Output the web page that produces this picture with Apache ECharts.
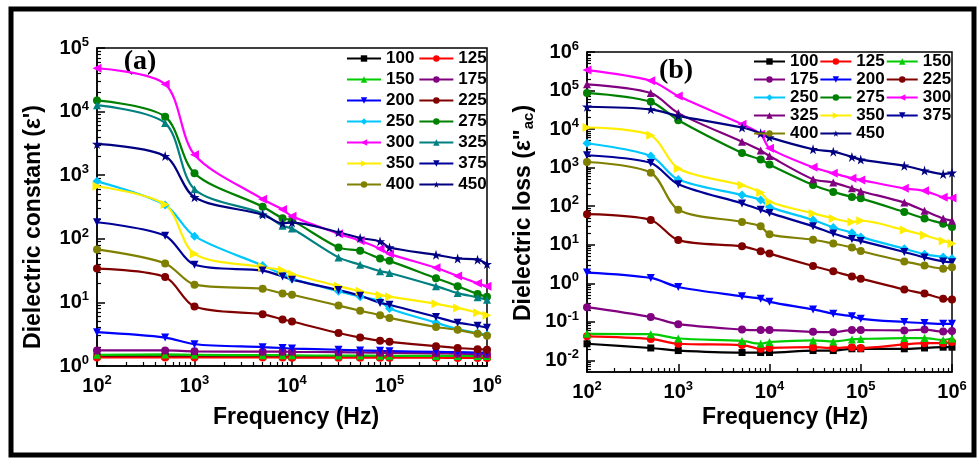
<!DOCTYPE html>
<html><head><meta charset="utf-8">
<script src="https://cdn.jsdelivr.net/npm/echarts@6/dist/echarts.min.js"></script>
<style>html,body{margin:0;padding:0;background:#fff}#c{width:978px;height:458px}</style>
</head><body><div id="c"></div>
<script>
// ---- data ----
const freq = [100, 500, 1000, 5000, 8000, 10000, 30000, 50000, 80000, 100000, 300000, 500000, 800000, 1000000];
const temps = ['100','125','150','175','200','225','250','275','300','325','350','375','400','450'];
const xMinorTicks = [200,300,400,500,600,700,800,900,2000,3000,4000,5000,6000,7000,8000,9000,20000,30000,40000,50000,60000,70000,80000,90000,200000,300000,400000,500000,600000,700000,800000,900000];
const yMinorTicksA = [2,3,4,5,6,7,8,9,20,30,40,50,60,70,80,90,200,300,400,500,600,700,800,900,2000,3000,4000,5000,6000,7000,8000,9000,20000,30000,40000,50000,60000,70000,80000,90000];
const yMajorTicksB = [0.01,0.1,1,10,100,1000,10000,100000,1000000];
const yMinorTicksB = [0.006,0.007,0.008,0.009,0.02,0.03,0.04,0.05,0.06,0.07,0.08,0.09,0.2,0.3,0.4,0.5,0.6,0.7,0.8,0.9,2,3,4,5,6,7,8,9,20,30,40,50,60,70,80,90,200,300,400,500,600,700,800,900,2000,3000,4000,5000,6000,7000,8000,9000,20000,30000,40000,50000,60000,70000,80000,90000,200000,300000,400000,500000,600000,700000,800000,900000];

// (a) dielectric constant
const epsA_100 = [1.42,1.42,1.41,1.41,1.40,1.40,1.40,1.40,1.40,1.39,1.39,1.39,1.39,1.39];
const epsA_125 = [1.36,1.36,1.36,1.36,1.36,1.35,1.35,1.35,1.35,1.35,1.35,1.34,1.34,1.34];
const epsA_150 = [1.50,1.52,1.50,1.48,1.48,1.47,1.46,1.46,1.45,1.45,1.44,1.44,1.43,1.43];
const epsA_175 = [1.76,1.76,1.70,1.68,1.68,1.67,1.65,1.63,1.62,1.60,1.58,1.56,1.54,1.53];
const epsA_200 = [3.4,2.8,2.2,1.98,1.92,1.88,1.80,1.76,1.73,1.71,1.67,1.65,1.63,1.62];
const epsA_225 = [34,25,8.6,6.5,5.4,5.0,3.3,2.8,2.5,2.4,2.05,1.92,1.84,1.8];
const epsA_250 = [800,340,110,38,27.5,23.5,15,12.3,10.6,8,4.8,3.8,3.3,3.1];
const epsA_275 = [15000,8300,1070,320,210,195,73,65,49,45,24,18,13.5,12.3];
const epsA_300 = [48000,27000,2100,420,290,226,120,93,70,58,35,26,20,18];
const epsA_325 = [12600,6600,600,250,160,145,51,39,31,29,18,14,12,11];
const epsA_350 = [670,345,58,36,32,28,18,15,13,12.3,9.5,8.2,6.9,6.3];
const epsA_375 = [182,112,39,31.6,25.6,22.8,15.6,12.7,9.8,9.2,5.9,4.8,4.3,4.0];
const epsA_400 = [68,41,19,16.4,13.8,13.2,8.9,7.4,6.3,5.7,4.1,3.7,3.2,3.0];
const epsA_450 = [3100,2000,450,240,175,180,127,103,91,73,56,49,47,40];

// (b) dielectric loss
const lossB_100 = [0.027,0.021,0.018,0.016,0.016,0.016,0.018,0.018,0.020,0.020,0.020,0.021,0.022,0.022];
const lossB_125 = [0.042,0.036,0.027,0.025,0.020,0.021,0.022,0.021,0.022,0.021,0.026,0.028,0.028,0.030];
const lossB_150 = [0.049,0.048,0.037,0.032,0.027,0.030,0.033,0.031,0.035,0.036,0.038,0.038,0.034,0.037];
const lossB_175 = [0.24,0.133,0.087,0.063,0.061,0.061,0.055,0.054,0.061,0.061,0.060,0.063,0.056,0.058];
const lossB_200 = [1.9,1.38,0.80,0.46,0.40,0.33,0.21,0.163,0.14,0.12,0.099,0.093,0.089,0.089];
const lossB_225 = [62,44,13.2,9.1,6.8,5.9,2.8,2.05,1.5,1.32,0.69,0.54,0.40,0.38];
const lossB_250 = [4300,2000,490,195,145,96,44,28,20.5,16,7.9,5.7,4.8,4.4];
const lossB_275 = [87000,51000,17000,2400,1620,1200,355,235,174,160,71,48,35,29];
const lossB_300 = [340000,180000,72000,13400,7400,3200,1020,720,530,480,290,250,170,162];
const lossB_325 = [145000,86000,26000,4700,2800,2000,500,410,290,245,124,76,48,42];
const lossB_350 = [11000,6900,950,350,225,130,65,48,39,42,24,17.7,12.6,10.8];
const lossB_375 = [2100,1320,370,118,81,67,30,19.5,14,12.6,6.5,4.7,3.7,3.5];
const lossB_400 = [1400,740,81,39,30,18.6,13.5,10.7,8.5,6.9,3.7,2.9,2.4,2.6];
const lossB_450 = [38000,32500,22000,11000,7800,6100,3000,2600,1900,1620,1120,840,680,740];

const dataA = [epsA_100,epsA_125,epsA_150,epsA_175,epsA_200,epsA_225,epsA_250,epsA_275,epsA_300,epsA_325,epsA_350,epsA_375,epsA_400,epsA_450];
const dataB = [lossB_100,lossB_125,lossB_150,lossB_175,lossB_200,lossB_225,lossB_250,lossB_275,lossB_300,lossB_325,lossB_350,lossB_375,lossB_400,lossB_450];

// ---- styles ----
const STAR = 'path://M50,0 L61,35 L98,35 L68,57 L79,91 L50,70 L21,91 L32,57 L2,35 L39,35 Z';
const colorsA = ['#000000','#ff0000','#00cc00','#800080','#0000ff','#800000','#00c8ff','#008000','#ff00ff','#008080','#ffee00','#000099','#808000','#000080'];
const colorsB = ['#000000','#ff0000','#00cc00','#800080','#0000ff','#800000','#00c8ff','#008000','#ff00ff','#800080','#ffee00','#000099','#808000','#000080'];
const symbols = ['rect','circle','triangle','circle','triangle','circle','diamond','circle','triangle','triangle','triangle','triangle','circle',STAR];
const rots = [0,0,0,0,180,0,0,0,90,0,-90,180,0,0];
const sizes = [7,8,8,8,8,8,9,8,9,8,9,8,8,10];

const FF = '"Liberation Sans", Arial, sans-serif';
const richLbl = {
  a: {fontSize: 20, fontWeight: 'bold', fontFamily: FF, color: '#000', lineHeight: 24},
  b: {fontSize: 13, fontWeight: 'bold', fontFamily: FF, color: '#000', lineHeight: 12, verticalAlign: 'top'}
};
function powFmt(v){ const e = Math.round(Math.log10(v)); return '{a|10}{b|' + e + '}'; }

function mkSeries(prefix, data, colors, xi){
  return temps.map((t,i)=>({
    name: prefix + t, type: 'line', xAxisIndex: xi, yAxisIndex: xi,
    data: freq.map((f,j)=>[f, data[i][j]]),
    smooth: 0.3, symbol: symbols[i], symbolRotate: rots[i], symbolSize: sizes[i],
    lineStyle: {width: 2.2, color: colors[i]}, itemStyle: {color: colors[i]},
    animation: false, z: 3
  }));
}

function mainX(gi){
  return {type:'log', logBase:10, gridIndex: gi, min:100, max:1000000, interval: 1, position:'bottom',
    axisLine:{show:true, lineStyle:{color:'#000', width:1.5}},
    axisTick:{show:true, inside:true, length:8, lineStyle:{color:'#000', width:1.5}},
    axisLabel:{formatter: powFmt, rich: richLbl, margin: 8},
    splitLine:{show:false}};
}
function minorX(gi){
  return {type:'log', logBase:10, gridIndex: gi, min:100, max:1000000, position:'bottom', offset:0,
    axisLine:{show:false}, axisLabel:{show:false}, splitLine:{show:false},
    axisTick:{show:true, inside:true, length:4, customValues: xMinorTicks, lineStyle:{color:'#000', width:1.2}}};
}
function mainYA(){
  return {type:'log', logBase:10, gridIndex: 0, min:1, max:100000, interval: 1, position:'left',
    axisLine:{show:true, lineStyle:{color:'#000', width:1.5}},
    axisTick:{show:true, inside:true, length:8, lineStyle:{color:'#000', width:1.5}},
    axisLabel:{formatter: powFmt, rich: richLbl, margin: 8},
    splitLine:{show:false}};
}
function mainYB(){
  return {type:'log', logBase:10, gridIndex: 1, min:0.005, max:1000000, position:'left',
    axisLine:{show:true, lineStyle:{color:'#000', width:1.5}},
    axisTick:{show:true, inside:true, length:8, customValues: yMajorTicksB, lineStyle:{color:'#000', width:1.5}},
    axisLabel:{formatter: powFmt, rich: richLbl, margin: 8, customValues: yMajorTicksB},
    splitLine:{show:false}};
}
function minorY(gi, min, max, minorVals){
  return {type:'log', logBase:10, gridIndex: gi, min:min, max:max, position:'left', offset:0,
    axisLine:{show:false}, axisLabel:{show:false}, splitLine:{show:false},
    axisTick:{show:true, inside:true, length:4, customValues: minorVals, lineStyle:{color:'#000', width:1.2}}};
}

const legendCommon = {
  itemHeight: 8, padding: 0, orient: 'horizontal',
  textStyle: {fontSize: 17, fontWeight: 'bold', fontFamily: FF, color: '#000'},
  formatter: n => n.slice(1), selectedMode: false
};

const chart = echarts.init(document.getElementById('c'), null, {renderer:'canvas'});
const option = {
  backgroundColor: '#fff',
  animation: false,
  grid: [
    {left: 97, right: 491, top: 48, bottom: 92, show: true, borderColor: '#000', borderWidth: 1.5, containLabel: false},
    {left: 587, right: 26, top: 52, bottom: 86, show: true, borderColor: '#000', borderWidth: 1.5, containLabel: false}
  ],
  xAxis: [mainX(0), mainX(1), minorX(0), minorX(1)],
  yAxis: [mainYA(), mainYB(), minorY(0, 1, 100000, yMinorTicksA), minorY(1, 0.005, 1000000, yMinorTicksB)],
  legend: [
    Object.assign({}, legendCommon, {data: temps.map(t=>'a'+t), left: 346, top: 50, width: 150, itemWidth: 34, itemGap: 4}),
    Object.assign({}, legendCommon, {data: temps.map(t=>'b'+t), left: 753, top: 53, width: 205, itemWidth: 31, itemGap: 1})
  ],
  series: mkSeries('a', dataA, colorsA, 0).concat(mkSeries('b', dataB, colorsB, 1)),
  graphic: [
    {type:'rect', shape:{x:11, y:9, width:963, height:446}, style:{fill:'none', stroke:'#000', lineWidth:5}, silent:true},
    {type:'text', x:140, y:62, style:{text:'(a)', font:'bold 28px "Liberation Serif", "Times New Roman", serif', fill:'#000', align:'center', verticalAlign:'middle'}},
    {type:'text', x:676, y:71, style:{text:'(b)', font:'bold 28px "Liberation Serif", "Times New Roman", serif', fill:'#000', align:'center', verticalAlign:'middle'}},
    {type:'text', x:296, y:418, style:{text:'Frequency (Hz)', font:'bold 23px ' + FF, fill:'#000', align:'center', verticalAlign:'middle'}},
    {type:'text', x:785, y:418, style:{text:'Frequency (Hz)', font:'bold 23px ' + FF, fill:'#000', align:'center', verticalAlign:'middle'}},
    {type:'text', x:34, y:227, rotation: Math.PI/2, style:{text:"Dielectric constant (ε')", font:'bold 23px ' + FF, fill:'#000', align:'center', verticalAlign:'middle'}},
    {type:'text', x:524, y:213, rotation: Math.PI/2, style:{text:'{m|Dielectric loss (ε"}{s|ac}{m|)}', align:'center', verticalAlign:'middle',
      rich:{m:{font:'bold 23px ' + FF, fill:'#000', color:'#000'}, s:{font:'bold 15px ' + FF, color:'#000', verticalAlign:'bottom', padding:[10,0,0,0]}}}}
  ]
};
chart.setOption(option);
</script></body></html>
